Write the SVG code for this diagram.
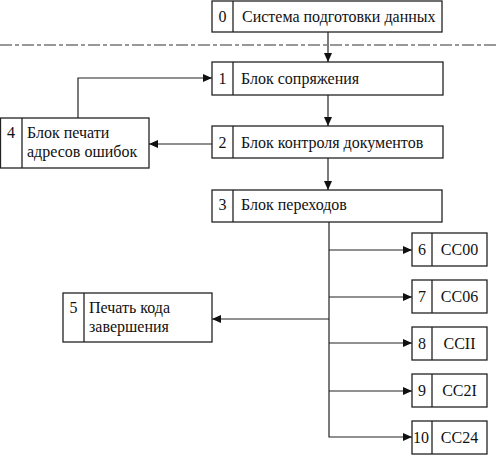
<svg xmlns="http://www.w3.org/2000/svg" width="499" height="456" viewBox="0 0 499 456">
<style>
.box{fill:#fff;stroke:#222;stroke-width:1.3}
.div{stroke:#222;stroke-width:1.3}
.t{font-family:"Liberation Serif","Times New Roman",serif;font-size:16px;fill:#111}
.c{text-anchor:middle}
.ln{fill:none;stroke:#222;stroke-width:1.2}
</style>
<defs>
<marker id="ah" markerWidth="9" markerHeight="8" refX="9" refY="4" orient="auto" markerUnits="userSpaceOnUse">
<path d="M0,0 L9,4 L0,8 Z" fill="#111"/>
</marker>
</defs>
<line x1="0" y1="45" x2="499" y2="45" stroke="#333" stroke-width="1.2" stroke-dasharray="12,3,4,3"/>
<g id="connectors">
<line class="ln" x1="328" y1="32" x2="328" y2="62" marker-end="url(#ah)"/>
<line class="ln" x1="328" y1="95" x2="328" y2="126" marker-end="url(#ah)"/>
<line class="ln" x1="212" y1="144" x2="149" y2="144" marker-end="url(#ah)"/>
<polyline class="ln" points="78,118 78,78 212,78" marker-end="url(#ah)"/>
<line class="ln" x1="328" y1="158" x2="328" y2="190" marker-end="url(#ah)"/>
<polyline class="ln" points="329,222 329,437 412,437" marker-end="url(#ah)"/>
<line class="ln" x1="329" y1="250" x2="412" y2="250" marker-end="url(#ah)"/>
<line class="ln" x1="329" y1="297" x2="412" y2="297" marker-end="url(#ah)"/>
<line class="ln" x1="329" y1="343" x2="412" y2="343" marker-end="url(#ah)"/>
<line class="ln" x1="329" y1="391" x2="412" y2="391" marker-end="url(#ah)"/>
<line class="ln" x1="329" y1="319" x2="212" y2="319" marker-end="url(#ah)"/>
</g>
<g id="n0"><rect class="box" x="212" y="1" width="230" height="31"/><line class="div" x1="233" y1="1" x2="233" y2="32"/><text class="t c" x="222.5" y="22">0</text><text class="t" x="242" y="22">Система подготовки данных</text></g>
<g id="n1"><rect class="box" x="212" y="62" width="231" height="33"/><line class="div" x1="233" y1="62" x2="233" y2="95"/><text class="t c" x="222.5" y="84">1</text><text class="t" x="241" y="84">Блок сопряжения</text></g>
<g id="n2"><rect class="box" x="212" y="126" width="231" height="32"/><line class="div" x1="233" y1="126" x2="233" y2="158"/><text class="t c" x="222.5" y="148">2</text><text class="t" x="241" y="148">Блок контроля документов</text></g>
<g id="n4"><rect class="box" x="0.5" y="118" width="148.5" height="50"/><line class="div" x1="22" y1="118" x2="22" y2="168"/><text class="t c" x="11" y="138">4</text><text class="t" x="27" y="138">Блок печати</text><text class="t" x="27" y="157">адресов ошибок</text></g>
<g id="n3"><rect class="box" x="212" y="190" width="230" height="32"/><line class="div" x1="233" y1="190" x2="233" y2="222"/><text class="t c" x="222.5" y="210">3</text><text class="t" x="241" y="210">Блок переходов</text></g>
<g id="n5"><rect class="box" x="63" y="293" width="149" height="49"/><line class="div" x1="84" y1="293" x2="84" y2="342"/><text class="t c" x="73.5" y="313">5</text><text class="t" x="89" y="313">Печать кода</text><text class="t" x="89" y="332">завершения</text></g>
<g id="n6"><rect class="box" x="412" y="233" width="75" height="33"/><line class="div" x1="432" y1="233" x2="432" y2="266"/><text class="t c" x="422" y="255">6</text><text class="t c" x="459.5" y="255">CC00</text></g>
<g id="n7"><rect class="box" x="412" y="280" width="75" height="33"/><line class="div" x1="432" y1="280" x2="432" y2="313"/><text class="t c" x="422" y="302">7</text><text class="t c" x="459.5" y="302">CC06</text></g>
<g id="n8"><rect class="box" x="412" y="327" width="75" height="33"/><line class="div" x1="432" y1="327" x2="432" y2="360"/><text class="t c" x="422" y="349">8</text><text class="t c" x="459.5" y="349">CCII</text></g>
<g id="n9"><rect class="box" x="412" y="374" width="75" height="33"/><line class="div" x1="432" y1="374" x2="432" y2="407"/><text class="t c" x="422" y="396">9</text><text class="t c" x="459.5" y="396">CC2I</text></g>
<g id="n10"><rect class="box" x="412" y="421" width="75" height="33"/><line class="div" x1="432" y1="421" x2="432" y2="454"/><text class="t c" x="421" y="443">10</text><text class="t c" x="459.5" y="443">CC24</text></g>
</svg>
